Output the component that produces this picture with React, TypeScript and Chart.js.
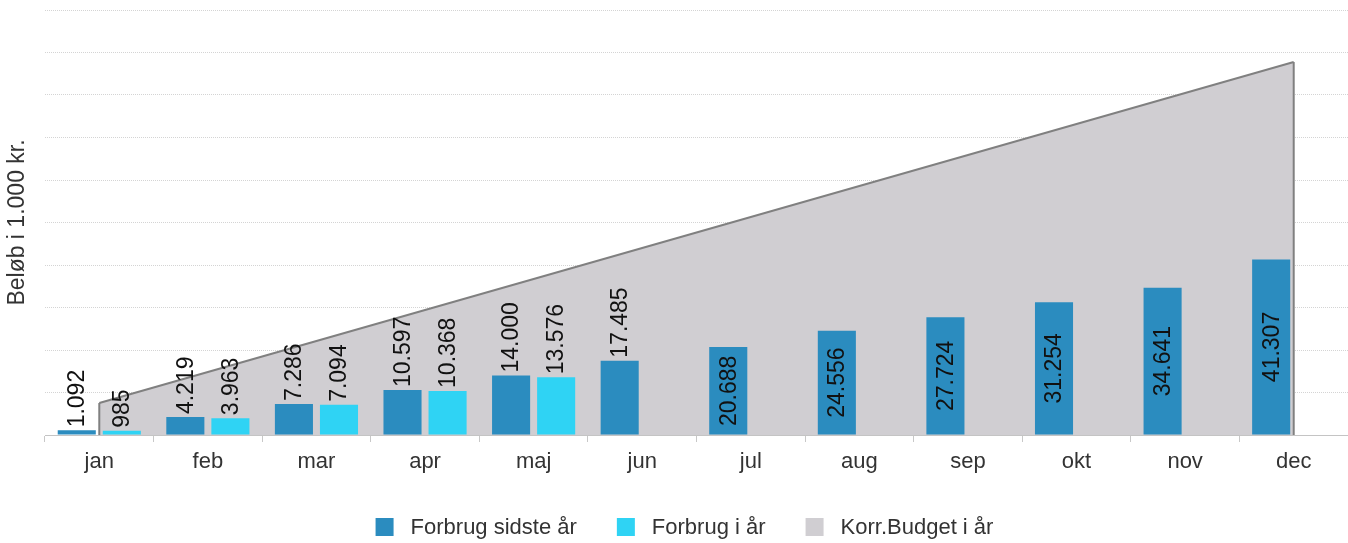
import React, { useEffect, useRef } from 'react';
import { Chart, registerables } from 'chart.js';

Chart.register(...registerables);

const months = ['jan', 'feb', 'mar', 'apr', 'maj', 'jun', 'jul', 'aug', 'sep', 'okt', 'nov', 'dec'];
const lastYear = [1092, 4219, 7286, 10597, 14000, 17485, 20688, 24556, 27724, 31254, 34641, 41307];
const thisYear = [985, 3963, 7094, 10368, 13576, null, null, null, null, null, null, null];
const budget = [7530, 14820, 22120, 29410, 36700, 44000, 51290, 58590, 65880, 73170, 80470, 87760];
const seriesNames = ['Forbrug sidste år', 'Forbrug i år', 'Korr.Budget i år'];
const seriesColors = ['#2b8cbf', '#2fd3f4', '#d0ced2'];
const yTitle = 'Beløb i 1.000 kr.';

const lineColor = '#808080';
const FONT = "'Liberation Sans', Arial, Helvetica, sans-serif";

function fmt(v: number): string {
  return String(Math.round(v)).replace(/\B(?=(\d{3})+(?!\d))/g, '.');
}

const labelPlugin = {
  id: 'barLabels',
  afterDatasetsDraw(chart: any) {
    const ctx = chart.ctx;
    ctx.save();
    ctx.font = `23px ${FONT}`;
    ctx.fillStyle = '#111';
    ctx.textBaseline = 'middle';
    chart.data.datasets.forEach((ds: any, di: number) => {
      if (ds.type !== 'bar') return;
      const meta = chart.getDatasetMeta(di);
      meta.data.forEach((el: any, i: number) => {
        const v = ds.data[i];
        if (v === null || v === undefined) return;
        const text = fmt(v);
        const w = ctx.measureText(text).width;
        const top = el.y;
        const base = el.base;
        const h = base - top;
        ctx.save();
        if (w + 12 <= h) {
          ctx.translate(el.x, (top + base) / 2);
          ctx.rotate(-Math.PI / 2);
          ctx.textAlign = 'center';
          ctx.fillText(text, 0, 1);
        } else {
          ctx.translate(el.x, top - 3);
          ctx.rotate(-Math.PI / 2);
          ctx.textAlign = 'left';
          ctx.fillText(text, 0, 1);
        }
        ctx.restore();
      });
    });
    ctx.restore();
  },
};

const edgePlugin = {
  id: 'areaEdges',
  afterDatasetDraw(chart: any, args: any) {
    if (args.index !== 2) return;
    const pts = args.meta.data;
    if (!pts.length) return;
    const y0 = chart.scales.y.getPixelForValue(0);
    const ctx = chart.ctx;
    ctx.save();
    ctx.strokeStyle = lineColor;
    ctx.lineWidth = 2;
    ctx.beginPath();
    const a = pts[0];
    const b = pts[pts.length - 1];
    ctx.moveTo(a.x, a.y);
    ctx.lineTo(a.x, y0);
    ctx.moveTo(b.x, b.y);
    ctx.lineTo(b.x, y0);
    ctx.stroke();
    ctx.restore();
  },
};

const legendPlugin = {
  id: 'customLegend',
  afterDraw(chart: any) {
    const ctx = chart.ctx;
    ctx.save();
    ctx.font = `22px ${FONT}`;
    const box = 18;
    const gapBT = 17;
    const gapItem = 40;
    const widths = seriesNames.map((n) => ctx.measureText(n).width);
    const total =
      widths.reduce((acc, w) => acc + box + gapBT + w, 0) + gapItem * (seriesNames.length - 1);
    let x = 684.5 - total / 2;
    const cy = 527;
    ctx.textBaseline = 'middle';
    ctx.textAlign = 'left';
    seriesNames.forEach((n, i) => {
      ctx.fillStyle = seriesColors[i];
      ctx.fillRect(x, cy - box / 2, box, box);
      x += box + gapBT;
      ctx.fillStyle = '#333';
      ctx.fillText(n, x, cy + 1);
      x += widths[i] + gapItem;
    });
    ctx.restore();
  },
};

export default function App() {
  const ref = useRef<HTMLCanvasElement | null>(null);

  useEffect(() => {
    document.body.style.margin = '0';
    const canvas = ref.current;
    if (!canvas) return;
    const chart = new Chart(canvas, {
      type: 'bar',
      data: {
        labels: months,
        datasets: [
          {
            type: 'bar',
            label: seriesNames[0],
            data: lastYear,
            backgroundColor: seriesColors[0],
            order: 1,
            categoryPercentage: 0.83,
            barPercentage: 0.845,
          },
          {
            type: 'bar',
            label: seriesNames[1],
            data: thisYear,
            backgroundColor: seriesColors[1],
            order: 1,
            categoryPercentage: 0.83,
            barPercentage: 0.845,
          },
          {
            type: 'line',
            label: seriesNames[2],
            data: budget,
            borderColor: lineColor,
            borderWidth: 2,
            backgroundColor: seriesColors[2],
            fill: 'origin',
            pointRadius: 0,
            tension: 0,
            order: 2,
          },
        ] as any,
      },
      options: {
        responsive: false,
        animation: false,
        layout: { padding: { top: 10, right: 0, bottom: 60, left: 0 } },
        plugins: {
          legend: { display: false },
          tooltip: { enabled: false },
        },
        scales: {
          x: {
            offset: true,
            grid: {
              offset: true,
              drawOnChartArea: false,
              drawTicks: true,
              tickLength: 7,
              color: '#c8c8c8',
            },
            border: { display: true, color: '#c4c4c4', width: 1 },
            ticks: {
              color: '#333',
              padding: 7,
              font: { family: FONT, size: 22 },
              maxRotation: 0,
              autoSkip: false,
            },
            afterFit: (scale: any) => {
              scale.height = 48;
            },
          },
          y: {
            min: 0,
            max: 100000,
            ticks: { display: false, stepSize: 10000 },
            grid: {
              drawTicks: false,
              color: (c: any) => (c.tick && c.tick.value === 0 ? 'rgba(0,0,0,0)' : '#d4d4d4'),
              lineWidth: 1,
            },
            border: { display: false, dash: [1, 1] },
            title: {
              display: true,
              text: yTitle,
              color: '#333',
              font: { family: FONT, size: 23 },
              padding: { top: 4, bottom: 0 },
            },
            afterFit: (scale: any) => {
              scale.width = 45;
            },
          },
        },
      } as any,
      plugins: [labelPlugin, edgePlugin, legendPlugin],
    });
    return () => chart.destroy();
  }, []);

  return (
    <div style={{ width: 1348, height: 543 }}>
      <canvas ref={ref} width={1348} height={543} style={{ display: 'block' }} />
    </div>
  );
}
